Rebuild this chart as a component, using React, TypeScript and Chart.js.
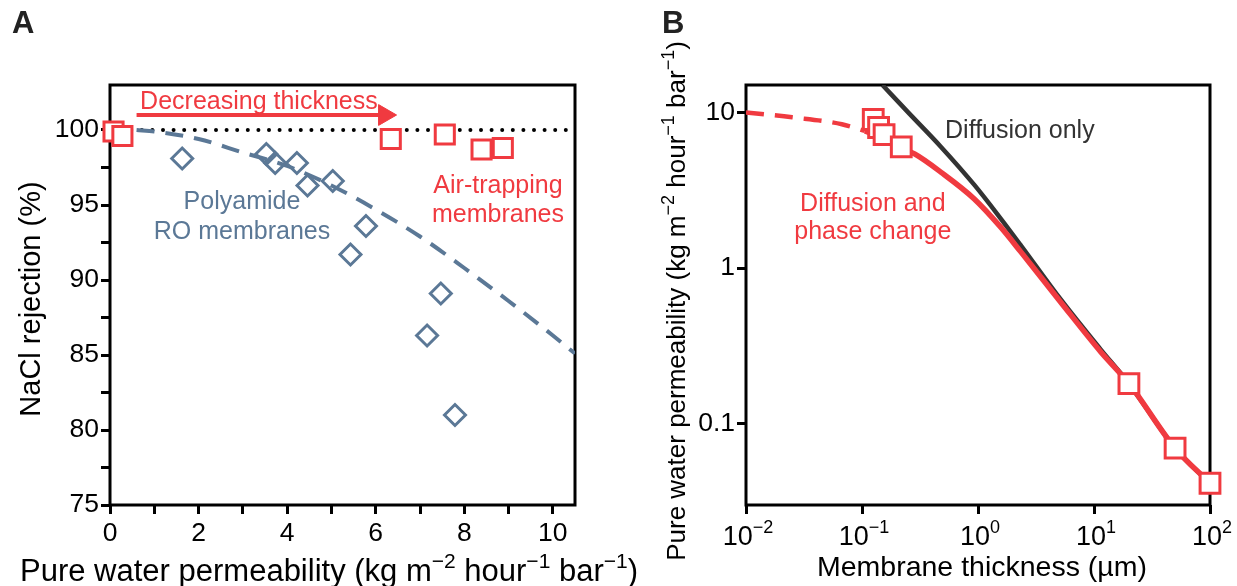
import React, { useEffect, useRef } from "react";
import { Chart, registerables } from "chart.js";

Chart.register(...registerables);

const FONT = '"Liberation Sans", Arial, Helvetica, sans-serif';
const RED = "#f03a40";
const BLUE = "#5b7896";
const DARK = "#333333";

// ---------- Panel A: NaCl rejection vs pure water permeability ----------
const roPermeability = [1.63, 3.53, 3.73, 4.22, 4.46, 5.03, 5.78, 5.43, 7.47, 7.16, 7.79];
const roRejection = [98.1, 98.4, 97.8, 97.8, 96.3, 96.6, 93.6, 91.7, 89.1, 86.3, 81.0];
const airPermeability = [0.08, 0.28, 6.34, 7.56, 8.39, 8.87];
const airRejection = [99.9, 99.6, 99.4, 99.7, 98.7, 98.8];
const trendPermeability = [0.6, 1, 2, 3, 4, 5, 6, 7, 8, 9, 10, 10.5];
const trendRejection = [100, 99.9, 99.4, 98.5, 97.6, 96.3, 94.7, 92.9, 90.8, 88.6, 86.3, 85.1];
const idealPermeability = [0, 10.5];
const idealRejection = [100, 100];
const arrowPermeability = [0.6, 6.2];
const arrowRejection = [101, 101];
const aXTicks = [0, 1, 2, 3, 4, 5, 6, 7, 8, 9, 10];
const aXLabels = ["0", "", "2", "", "4", "", "6", "", "8", "", "10"];
const aYTicks = [75, 77.5, 80, 82.5, 85, 87.5, 90, 92.5, 95, 97.5, 100];
const aYLabels = ["75", "", "80", "", "85", "", "90", "", "95", "", "100"];

// ---------- Panel B: permeability vs membrane thickness ----------
const diffusionThickness = [0.15, 0.25, 0.48, 0.93, 1.57, 2.34, 5.15, 11.4, 20, 50, 100];
const diffusionPermeability = [15, 10.0, 6.0, 3.42, 2.08, 1.4, 0.63, 0.3, 0.181, 0.0695, 0.0414];
const phaseDashedThickness = [0.01, 0.025, 0.067, 0.106];
const phaseDashedPermeability = [10.0, 9.3, 8.4, 7.6];
const phaseSolidThickness = [0.106, 0.15, 0.218, 0.284, 0.481, 0.929, 1.57, 2.34, 5.15, 11.4, 20, 50, 100];
const phaseSolidPermeability = [7.6, 6.9, 5.9, 5.41, 4.12, 2.78, 1.83, 1.27, 0.605, 0.29, 0.181, 0.0695, 0.0414];
const measuredThickness = [0.125, 0.139, 0.155, 0.218, 20, 50, 100];
const measuredPermeability = [9.0, 8.0, 7.2, 6.0, 0.181, 0.0695, 0.0414];
const bXTicks = [0.01, 0.1, 1, 10, 100];
const bXExponents = ["−2", "−1", "0", "1", "2"];
const bYTicks = [0.1, 1, 10];
const bYLabels = ["0.1", "1", "10"];

type Seg = { t: string; sup?: boolean };

const font = (size: number, weight = "normal") => `${weight} ${size}px ${FONT}`;

function drawRich(
  ctx: CanvasRenderingContext2D,
  segs: Seg[],
  x: number,
  y: number,
  size: number,
  color: string,
  rotate = false,
  align: "center" | "left" = "center",
  weight = "normal"
) {
  ctx.save();
  ctx.translate(x, y);
  if (rotate) ctx.rotate(-Math.PI / 2);
  const supSize = Math.round(size * 0.68);
  const widths = segs.map((s) => {
    ctx.font = font(s.sup ? supSize : size, weight);
    return ctx.measureText(s.t).width;
  });
  const total = widths.reduce((a, b) => a + b, 0);
  let cx = align === "center" ? -total / 2 : 0;
  ctx.fillStyle = color;
  ctx.textAlign = "left";
  ctx.textBaseline = "alphabetic";
  const base = size * 0.36;
  segs.forEach((s, i) => {
    ctx.font = font(s.sup ? supSize : size, weight);
    ctx.fillText(s.t, cx, s.sup ? base - size * 0.42 : base);
    cx += widths[i];
  });
  ctx.restore();
}

const pts = (xs: number[], ys: number[]) => xs.map((x, i) => ({ x, y: ys[i] }));

const framePlugin = {
  id: "frame",
  beforeDatasetsDraw(chart: any) {
    const { ctx, chartArea: a } = chart;
    ctx.save();
    ctx.strokeStyle = "#000";
    ctx.lineWidth = 3;
    ctx.strokeRect(a.left, a.top, a.right - a.left, a.bottom - a.top);
    ctx.restore();
  },
};

function axisCommon(tickLen: number) {
  return {
    grid: {
      display: true,
      drawOnChartArea: false,
      drawTicks: true,
      tickLength: tickLen,
      tickWidth: 3,
      tickColor: "#000",
    },
    border: { display: false },
  };
}

const TICK_FONT = 26.5;
const TITLE_SEGS: Seg[] = [
  { t: "Pure water permeability (kg m" },
  { t: "−2", sup: true },
  { t: " hour" },
  { t: "−1", sup: true },
  { t: " bar" },
  { t: "−1", sup: true },
  { t: ")" },
];

export default function App() {
  const refA = useRef<HTMLCanvasElement>(null);
  const refB = useRef<HTMLCanvasElement>(null);

  useEffect(() => {
    document.body.style.margin = "0";
    Chart.defaults.font.family = FONT;

    const notesA = [
      { text: "Decreasing thickness", x: 0.68, y: 102.0, color: RED, align: "left" },
      { text: "Polyamide", x: 2.98, y: 95.35, color: BLUE, align: "center" },
      { text: "RO membranes", x: 2.98, y: 93.35, color: BLUE, align: "center" },
      { text: "Air-trapping", x: 8.76, y: 96.4, color: RED, align: "center" },
      { text: "membranes", x: 8.76, y: 94.5, color: RED, align: "center" },
    ];

    const decorA = {
      id: "decorA",
      afterDraw(chart: any) {
        const { ctx, scales } = chart;
        drawRich(ctx, [{ t: "A" }], 12, 22, 31, "#222", false, "left", "bold");
        drawRich(ctx, TITLE_SEGS, 329, 570, 31, "#000");
        drawRich(ctx, [{ t: "NaCl rejection (%)" }], 30, 299, 29, "#000", true);
        notesA.forEach((n) => {
          const px = scales.x.getPixelForValue(n.x);
          const py = scales.y.getPixelForValue(n.y);
          drawRich(ctx, [{ t: n.text }], px, py, 25, n.color, false, n.align as any);
        });
      },
    };

    const chartA = new Chart(refA.current as HTMLCanvasElement, {
      type: "line",
      data: {
        datasets: [
          {
            data: pts(airPermeability, airRejection),
            showLine: false,
            pointStyle: "rect",
            pointRadius: 13.5,
            pointBorderWidth: 3,
            pointBorderColor: RED,
            pointBackgroundColor: "#fff",
            clip: false,
          } as any,
          {
            data: pts(roPermeability, roRejection),
            showLine: false,
            pointStyle: "rectRot",
            pointRadius: 10.5,
            pointBorderWidth: 3,
            pointBorderColor: BLUE,
            pointBackgroundColor: "rgba(255,255,255,0)",
          },
          {
            data: pts(arrowPermeability, arrowRejection),
            borderColor: RED,
            borderWidth: 4,
            pointRadius: [0, 12],
            pointStyle: "triangle",
            pointRotation: 90,
            pointBackgroundColor: RED,
            pointBorderColor: RED,
            pointBorderWidth: 1,
          },
          {
            data: pts(trendPermeability, trendRejection),
            borderColor: BLUE,
            borderWidth: 4,
            borderDash: [18, 11],
            pointRadius: 0,
            cubicInterpolationMode: "monotone",
          },
          {
            data: pts(idealPermeability, idealRejection),
            borderColor: "#000",
            borderWidth: 4,
            borderDash: [0, 10.6],
            borderCapStyle: "round",
            pointRadius: 0,
          },
        ],
      },
      options: {
        responsive: false,
        animation: false,
        events: [],
        layout: { padding: { top: 85, right: 85, left: 0, bottom: 0 } },
        plugins: { legend: { display: false }, tooltip: { enabled: false } },
        scales: {
          x: {
            type: "linear",
            min: 0,
            max: 10.5,
            ...axisCommon(9),
            afterBuildTicks: (s: any) => {
              s.ticks = aXTicks.map((v) => ({ value: v }));
            },
            afterFit: (s: any) => {
              s.height = 81;
            },
            ticks: {
              autoSkip: false,
              maxRotation: 0,
              padding: 4,
              color: "#000",
              font: { size: TICK_FONT, family: FONT },
              callback: (_v: any, i: number) => aXLabels[i],
            },
          },
          y: {
            type: "linear",
            min: 75,
            max: 103,
            ...axisCommon(9),
            afterBuildTicks: (s: any) => {
              s.ticks = aYTicks.map((v) => ({ value: v }));
            },
            afterFit: (s: any) => {
              s.width = 110;
            },
            ticks: {
              autoSkip: false,
              padding: 2,
              color: "#000",
              font: { size: TICK_FONT, family: FONT },
              callback: (_v: any, i: number) => aYLabels[i],
            },
          },
        },
      } as any,
      plugins: [framePlugin, decorA],
    });

    const notesB = [
      { text: "Diffusion only", x: 0.52, y: 7.8, color: DARK, align: "left" },
      { text: "Diffusion and", x: 0.124, y: 2.67, color: RED, align: "center" },
      { text: "phase change", x: 0.124, y: 1.75, color: RED, align: "center" },
    ];

    const decorB = {
      id: "decorB",
      afterDraw(chart: any) {
        const { ctx, scales } = chart;
        drawRich(ctx, [{ t: "B" }], 42, 22, 31, "#222", false, "left", "bold");
        drawRich(ctx, [{ t: "Membrane thickness (µm)" }], 362, 566, 28.5, "#000");
        drawRich(ctx, TITLE_SEGS, 56, 301, 26, "#000", true);
        bXTicks.forEach((v, i) => {
          const px = scales.x.getPixelForValue(v);
          drawRich(ctx, [{ t: "10" }, { t: bXExponents[i], sup: true }], px + 2, 535, 27, "#000");
        });
        notesB.forEach((n) => {
          const px = scales.x.getPixelForValue(n.x);
          const py = scales.y.getPixelForValue(n.y);
          drawRich(ctx, [{ t: n.text }], px, py, 25, n.color, false, n.align as any);
        });
      },
    };

    const chartB = new Chart(refB.current as HTMLCanvasElement, {
      type: "line",
      data: {
        datasets: [
          {
            data: pts(measuredThickness, measuredPermeability),
            showLine: false,
            pointStyle: "rect",
            pointRadius: 14,
            pointBorderWidth: 3,
            pointBorderColor: RED,
            pointBackgroundColor: "#fff",
            clip: false,
          } as any,
          {
            data: pts(phaseSolidThickness, phaseSolidPermeability),
            borderColor: RED,
            borderWidth: 5.5,
            pointRadius: 0,
            cubicInterpolationMode: "monotone",
          },
          {
            data: pts(phaseDashedThickness, phaseDashedPermeability),
            borderColor: RED,
            borderWidth: 4.5,
            borderDash: [18, 11],
            pointRadius: 0,
            cubicInterpolationMode: "monotone",
          },
          {
            data: pts(diffusionThickness, diffusionPermeability),
            borderColor: DARK,
            borderWidth: 4.5,
            pointRadius: 0,
            cubicInterpolationMode: "monotone",
          },
        ],
      },
      options: {
        responsive: false,
        animation: false,
        events: [],
        layout: { padding: { top: 85, right: 27, left: 0, bottom: 0 } },
        plugins: { legend: { display: false }, tooltip: { enabled: false } },
        scales: {
          x: {
            type: "logarithmic",
            min: 0.01,
            max: 100,
            ...axisCommon(9),
            afterBuildTicks: (s: any) => {
              s.ticks = bXTicks.map((v) => ({ value: v }));
            },
            afterFit: (s: any) => {
              s.height = 81;
            },
            ticks: {
              autoSkip: false,
              maxRotation: 0,
              color: "#000",
              font: { size: TICK_FONT, family: FONT },
              callback: () => "",
            },
          },
          y: {
            type: "logarithmic",
            min: 0.03,
            max: 15,
            ...axisCommon(9),
            afterBuildTicks: (s: any) => {
              s.ticks = bYTicks.map((v) => ({ value: v }));
            },
            afterFit: (s: any) => {
              s.width = 126;
            },
            ticks: {
              autoSkip: false,
              padding: 2,
              color: "#000",
              font: { size: TICK_FONT, family: FONT },
              callback: (_v: any, i: number) => bYLabels[i],
            },
          },
        },
      } as any,
      plugins: [framePlugin, decorB],
    });

    return () => {
      chartA.destroy();
      chartB.destroy();
    };
  }, []);

  return (
    <div style={{ position: "absolute", left: 0, top: 0, width: 1237, height: 586, background: "#fff" }}>
      <canvas
        ref={refB}
        width={617}
        height={586}
        style={{ position: "absolute", left: 620, top: 0, width: 617, height: 586 }}
      />
      <canvas
        ref={refA}
        width={660}
        height={586}
        style={{ position: "absolute", left: 0, top: 0, width: 660, height: 586 }}
      />
    </div>
  );
}
